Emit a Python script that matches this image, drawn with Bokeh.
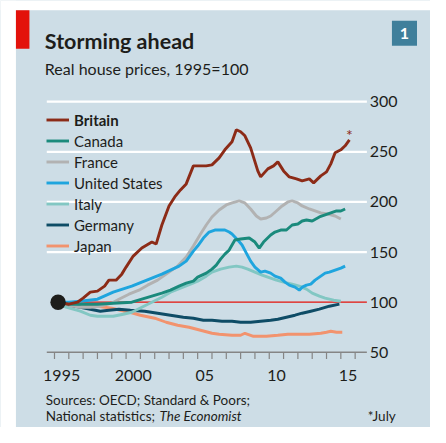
from bokeh.plotting import figure
from bokeh.models import Range1d, Legend, LegendItem, Label, BoxAnnotation
from bokeh.core.properties import value
from bokeh.embed import file_html
from bokeh.resources import INLINE

# ---------------- data (real house prices, 1995=100) ----------------
britain_x = [1995.25, 1996.0, 1996.6, 1997.0, 1997.5, 1998.0, 1998.5, 1998.8, 1999.3, 1999.7,
             2000.0, 2000.5, 2001.1, 2001.8, 2002.1, 2002.5, 2003.0, 2003.4, 2003.8, 2004.2,
             2004.7, 2005.2, 2005.6, 2006.0, 2006.5, 2006.9, 2007.4, 2007.7, 2008.0, 2008.3,
             2008.7, 2009.2, 2009.4, 2009.9, 2010.3, 2010.6, 2011.0, 2011.4, 2011.9, 2012.3,
             2012.8, 2013.1, 2013.6, 2014.0, 2014.3, 2014.6, 2015.0, 2015.3, 2015.6]
britain_y = [100, 98, 100, 104, 110, 111, 116, 122, 122, 128,
             135, 146, 154, 160, 158, 177, 196, 205, 212, 218,
             236, 236, 236, 237, 244, 252, 260, 272, 270, 266,
             254, 231, 225, 233, 236, 240, 231, 225, 223, 221,
             223, 219, 226, 230, 238, 249, 252, 256, 262]

canada_x = [1995.25, 1996.0, 1997.0, 1998.0, 1999.1, 2000.4, 2001.1, 2001.8, 2002.5, 2003.1,
            2003.7, 2004.2, 2004.7, 2005.0, 2005.6, 2006.0, 2006.3, 2006.6, 2006.9, 2007.2,
            2007.6, 2008.0, 2008.6, 2009.0, 2009.3, 2009.6, 2010.1, 2010.4, 2010.8, 2011.2,
            2011.6, 2012.0, 2012.3, 2012.6, 2013.0, 2013.5, 2013.9, 2014.3, 2014.7, 2015.0, 2015.3]
canada_y = [100, 98, 98, 98, 99, 100, 103, 106, 109, 112,
            116, 119, 121, 125, 129, 133, 137, 143, 148, 152,
            162, 163, 164, 160, 154, 160, 167, 170, 172, 172,
            177, 178, 181, 182, 181, 185, 187, 189, 191, 191, 193]

france_x = [1995.25, 1996.0, 1996.8, 1997.5, 1998.2, 1999.0, 1999.5, 2000.2, 2000.9, 2001.5,
            2002.2, 2003.0, 2003.6, 2004.2, 2004.7, 2005.2, 2005.6, 2006.0, 2006.5, 2007.0,
            2007.4, 2007.9, 2008.3, 2008.7, 2009.1, 2009.4, 2009.8, 2010.1, 2010.5, 2010.9,
            2011.3, 2011.6, 2012.0, 2012.3, 2012.8, 2013.2, 2013.6, 2014.1, 2014.6, 2015.0]
france_y = [100, 97, 95, 95, 96, 99, 103, 108, 112, 117,
            122, 130, 136, 145, 156, 168, 177, 185, 192, 197,
            199, 201, 199, 193, 186, 183, 184, 186, 191, 196,
            200, 201, 199, 196, 193, 191, 189, 188, 186, 183]

us_x = [1995.25, 1996.0, 1996.8, 1998.0, 1999.1, 2000.4, 2001.1, 2001.8, 2002.5, 2003.1,
        2003.7, 2004.2, 2004.7, 2005.0, 2005.4, 2005.8, 2006.2, 2006.6, 2006.9, 2007.2,
        2007.4, 2007.8, 2008.1, 2008.4, 2008.7, 2009.0, 2009.4, 2009.7, 2010.1, 2010.4,
        2010.8, 2011.1, 2011.4, 2011.8, 2012.1, 2012.3, 2012.6, 2012.9, 2013.2, 2013.6,
        2013.9, 2014.2, 2014.6, 2015.0, 2015.3]
us_y = [100, 100, 101, 103, 110, 116, 120, 124, 128, 132,
        136, 141, 151, 156, 164, 170, 172, 172, 172, 170,
        168, 162, 157, 149, 141, 135, 130, 131, 129, 126,
        124, 120, 117, 115, 112, 115, 117, 118, 122, 126,
        129, 130, 132, 134, 136]

italy_x = [1995.25, 1995.8, 1996.8, 1997.5, 1998.0, 1999.1, 1999.8, 2000.4, 2001.1, 2001.8,
           2002.5, 2003.1, 2003.8, 2004.5, 2005.0, 2005.6, 2006.0, 2006.6, 2007.2, 2007.7,
           2008.1, 2008.5, 2009.0, 2009.5, 2009.9, 2010.5, 2011.0, 2011.6, 2012.1, 2012.6,
           2013.0, 2013.5, 2013.9, 2014.5, 2015.0]
italy_y = [100, 95, 91, 87, 86, 86, 88, 90, 95, 100,
           105, 110, 114, 118, 121, 126, 130, 133, 135, 136,
           135, 133, 130, 127, 125, 122, 120, 118, 116, 113,
           109, 106, 104, 102, 101]

germany_x = [1995.25, 1996.0, 1996.8, 1997.5, 1998.2, 1998.8, 1999.5, 2000.3, 2001.3, 2002.2,
             2003.1, 2004.0, 2004.7, 2005.4, 2006.0, 2006.7, 2007.4, 2008.0, 2008.7, 2009.4,
             2010.1, 2010.6, 2011.2, 2011.8, 2012.3, 2012.9, 2013.5, 2014.2, 2014.9]
germany_y = [100, 97, 95, 93, 91, 92, 93, 92, 91, 89,
             87, 85, 84, 82, 82, 81, 81, 80, 80, 81,
             82, 83, 85, 87, 89, 91, 93, 96, 98]

japan_x = [1995.25, 1996.0, 1997.0, 1998.0, 1999.0, 1999.6, 2000.2, 2001.0, 2002.0, 2002.8,
           2003.6, 2004.4, 2005.2, 2006.0, 2006.5, 2007.4, 2008.0, 2008.3, 2008.5, 2008.9,
           2009.2, 2009.8, 2010.6, 2011.3, 2012.1, 2012.8, 2013.6, 2014.0, 2014.3, 2014.7, 2015.1]
japan_y = [100, 99, 98, 96, 94, 92, 90, 87, 84, 80,
           77, 75, 72, 69, 68, 67, 67, 69, 68, 66,
           66, 66, 67, 68, 68, 68, 69, 70, 71, 70, 70]

y_ticks = [50, 100, 150, 200, 250, 300]
y_tick_labels = ["50", "100", "150", "200", "250", "300"]
grid_values = [150, 200, 250, 300]
baseline = 100
axis_value = 50
x_label_positions = [1995.5, 2000.5, 2005.5, 2010.5, 2015.5]
x_labels = ["1995", "2000", "05", "10", "15"]
year_ticks = list(range(1995, 2017))

# ---------------- styling / layout ----------------
BG = "#cddde6"
TXT = "#1d1d1b"
FONT = "Lato"
C_BRIT = "#8c2b17"
C_CAN = "#1a8a7c"
C_FRA = "#b2b2b2"
C_US = "#1fa5de"
C_ITA = "#82c7c3"
C_GER = "#0e4c66"
C_JAP = "#f2936e"

REF_W, REF_H = 446, 443      # design grid (reference pixels)
W, H = 430, 427              # canvas size (fits the window)
S = W / REF_W                # design px -> screen px
PX_PER_YEAR = 14.85          # design px per year, 1995.0 at design x 56
PX_PER_UNIT = 1.04           # design px per index point, 100 at design y 313

def dx(px):
    return 1995 + (px - 56) / PX_PER_YEAR

def dy(py):
    return 100 + (313 - py) / PX_PER_UNIT

GX0, GX1 = dx(48), dx(380)   # extent of the plot area

p = figure(width=W, height=H, output_backend="svg", toolbar_location=None,
           x_range=Range1d(dx(0), dx(REF_W)), y_range=Range1d(dy(REF_H), dy(0)),
           x_axis_location=None, y_axis_location=None,
           min_border=0, min_border_left=0, min_border_right=0,
           min_border_top=0, min_border_bottom=0)
p.background_fill_color = BG
p.border_fill_color = BG
p.outline_line_color = None
p.grid.visible = False

# white page strips (left / top of the panel)
p.add_layout(BoxAnnotation(left=dx(0), right=dx(16), bottom=dy(REF_H), top=dy(0),
                           fill_color="white", fill_alpha=1, line_color=None))
p.add_layout(BoxAnnotation(left=dx(0), right=dx(REF_W), bottom=dy(10), top=dy(0),
                           fill_color="white", fill_alpha=1, line_color=None))

# horizontal gridlines
p.segment(x0=[GX0] * len(grid_values), y0=grid_values,
          x1=[GX1] * len(grid_values), y1=grid_values,
          line_color="white", line_width=2.2)

# x axis line and year ticks
p.segment(x0=[GX0], y0=[axis_value], x1=[GX1], y1=[axis_value],
          line_color="#858585", line_width=1.6)
p.segment(x0=year_ticks, y0=[axis_value] * len(year_ticks),
          x1=year_ticks, y1=[axis_value - 7 / PX_PER_UNIT] * len(year_ticks),
          line_color="#858585", line_width=1.2)
p.text(x=x_label_positions, y=[axis_value] * len(x_labels), text=x_labels,
       text_font=value(FONT), text_font_size="16px", text_color=TXT,
       text_align="center", text_baseline="middle", y_offset=24 * S)

# y tick labels on the right
p.text(x=[GX1] * len(y_ticks), y=y_ticks, text=y_tick_labels,
       text_font=value(FONT), text_font_size="16px", text_color=TXT,
       text_align="left", text_baseline="middle", x_offset=3 * S)

# red baseline at 100
p.segment(x0=[britain_x[0]], y0=[baseline], x1=[GX1], y1=[baseline],
          line_color="#e3120b", line_width=1.2)

LW = 2.9
r_jap = p.line(japan_x, japan_y, line_color=C_JAP, line_width=LW)
r_ger = p.line(germany_x, germany_y, line_color=C_GER, line_width=LW)
r_ita = p.line(italy_x, italy_y, line_color=C_ITA, line_width=LW)
r_fra = p.line(france_x, france_y, line_color=C_FRA, line_width=LW)
r_us = p.line(us_x, us_y, line_color=C_US, line_width=LW)
r_can = p.line(canada_x, canada_y, line_color=C_CAN, line_width=LW)
r_brit = p.line(britain_x, britain_y, line_color=C_BRIT, line_width=LW)

# start dot
p.scatter([britain_x[0]], [britain_y[0]], size=16 * S, fill_color="#1d1d1b", line_color=None)

# asterisk at the end of Britain
p.text(x=[britain_x[-1]], y=[britain_y[-1]], text=["*"], text_color=C_BRIT,
       text_font=value(FONT), text_font_size="16px", text_align="center",
       text_baseline="middle", y_offset=-6 * S)

# legends
ROW = 21
common = dict(glyph_width=23, glyph_height=ROW, label_height=ROW,
              padding=0, margin=0, spacing=0, label_standoff=5,
              border_line_alpha=0, background_fill_alpha=0,
              label_text_font=FONT, label_text_font_size="15px", label_text_color=TXT)
leg1 = Legend(items=[LegendItem(label="Britain", renderers=[r_brit])],
              location=(int(round(48 * S)), int(round((REF_H - 135) * S))),
              label_text_font_style="bold", **common)
leg2 = Legend(items=[LegendItem(label="Canada", renderers=[r_can]),
                     LegendItem(label="France", renderers=[r_fra]),
                     LegendItem(label="United States", renderers=[r_us]),
                     LegendItem(label="Italy", renderers=[r_ita]),
                     LegendItem(label="Germany", renderers=[r_ger]),
                     LegendItem(label="Japan", renderers=[r_jap])],
              location=(int(round(48 * S)), int(round((REF_H - 135) * S)) - 6 * ROW), **common)
p.add_layout(leg1)
p.add_layout(leg2)

# red bar and chart number
p.add_layout(BoxAnnotation(left=dx(16), right=dx(30), bottom=dy(50), top=dy(10),
                           fill_color="#e3120b", fill_alpha=1, line_color=None))
p.add_layout(BoxAnnotation(left=dx(406), right=dx(432), bottom=dy(47), top=dy(21),
                           fill_color="#3f7f9b", fill_alpha=1, line_color=None))
p.add_layout(Label(x=dx(419), y=dy(34), text="1", text_color="white", text_font=FONT,
                   text_font_size="16px", text_font_style="bold",
                   text_align="center", text_baseline="middle"))

# titles
p.add_layout(Label(x=dx(46), y=dy(41.5), text="Storming ahead", text_color=TXT,
                   text_font=FONT, text_font_size="21.5px", text_font_style="bold",
                   text_baseline="middle"))
p.add_layout(Label(x=dx(46), y=dy(71), text="Real house prices, 1995=100", text_color=TXT,
                   text_font=FONT, text_font_size="16px", text_baseline="middle"))

# footer
FOOT = "13.5px"
p.add_layout(Label(x=dx(47), y=dy(414), text="Sources: OECD; Standard & Poors;",
                   text_color=TXT, text_font=FONT, text_font_size=FOOT,
                   text_baseline="middle"))
p.add_layout(Label(x=dx(47), y=dy(431), text="National statistics;",
                   text_color=TXT, text_font=FONT, text_font_size=FOOT,
                   text_baseline="middle"))
p.add_layout(Label(x=dx(165), y=dy(431), text="The Economist",
                   text_color=TXT, text_font=FONT, text_font_size=FOOT,
                   text_font_style="italic", text_baseline="middle"))
p.add_layout(Label(x=dx(410), y=dy(431), text="*July",
                   text_color=TXT, text_font=FONT, text_font_size=FOOT,
                   text_align="right", text_baseline="middle"))

open("out.html", "w").write(file_html(p, INLINE))
